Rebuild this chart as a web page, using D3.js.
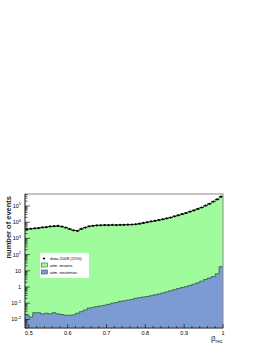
<!DOCTYPE html>
<html>
<head>
<meta charset="utf-8">
<script src="https://cdn.jsdelivr.net/npm/d3@7"></script>
<style>
  body { margin: 0; background: #fff; }
  svg { display: block; font-family: "Liberation Sans", Arial, sans-serif; }
</style>
</head>
<body>
<div id="chart"></div>
<script>
// Data: 51 bins of width 0.01 from 0.49 to 1.00
const binLow = d3.range(51).map(i => +(0.49 + i * 0.01).toFixed(2));

// atm. muons (events per bin)
const muons = [
  3700, 3900, 4100, 4400, 4700, 5000, 5400, 5700, 5800, 5400,
  4600, 3800, 3100, 3000, 3800, 4700, 5500, 6000, 6300, 6500,
  6600, 6600, 6700, 6700, 6800, 6900, 7000, 7200, 7400, 8100,
  8900, 10000, 11000, 12300, 13500, 15100, 17000, 19500, 22900, 26900,
  31600, 37000, 44700, 53700, 66000, 81000, 105000, 138000, 186000, 257000,
  372000
];

// atm. neutrinos
const neutrinos = [
  0.019, 0.014, 0.026, 0.026, 0.022, 0.024, 0.022, 0.026, 0.022, 0.020,
  0.018, 0.018, 0.019, 0.024, 0.030, 0.038, 0.050, 0.055, 0.062, 0.068,
  0.075, 0.085, 0.10, 0.11, 0.13, 0.14, 0.155, 0.17, 0.20, 0.22,
  0.24, 0.26, 0.29, 0.33, 0.37, 0.43, 0.50, 0.58, 0.68, 0.80,
  0.92, 1.05, 1.25, 1.5, 1.8, 2.3, 2.9, 3.6, 4.4, 6.5,
  18
];

// data 2008 (15%)
const data2008 = [
  3650, 3950, 4150, 4350, 4750, 4950, 5450, 5650, 5850, 5350,
  4650, 3750, 3150, 2950, 3850, 4650, 5550, 5950, 6350, 6450,
  6650, 6550, 6750, 6650, 6850, 6850, 7050, 7150, 7450, 8050,
  8950, 9950, 11100, 12200, 13600, 15000, 17100, 19400, 23000, 26700,
  31800, 36800, 45000, 53400, 66300, 80500, 105500, 137000, 187000, 255000,
  374000
];

const yTicks = [1e-2, 1e-1, 1, 10, 1e2, 1e3, 1e4, 1e5];
const yTickLabels = [["10", "-2"], ["10", "-1"], ["1", ""], ["10", ""], ["10", "2"], ["10", "3"], ["10", "4"], ["10", "5"]];
const xTicks = [0.5, 0.6, 0.7, 0.8, 0.9, 1.0];
const xTickLabels = ["0.5", "0.6", "0.7", "0.8", "0.9", "1"];
const legendItems = ["data 2008 (15%)", "atm. muons", "atm. neutrinos"];

const W = 268, H = 346;
const frame = { left: 25, right: 223, top: 194, bottom: 328 };

const svg = d3.select("#chart").append("svg")
  .attr("width", W)
  .attr("height", H);

const x = d3.scaleLinear().domain([0.49, 1.0]).range([frame.left, frame.right]);
const y = d3.scaleLog().domain([Math.pow(10, -2.53), Math.pow(10, 5.74)]).range([frame.bottom, frame.top]);

const green = "#9ffb9c";
const blue = "#7c9bd3";

// stacked histograms: total (muons + neutrinos) then neutrinos
const total = muons.map((m, i) => m + neutrinos[i]);

function stepArea(vals) {
  const pts = [];
  vals.forEach((v, i) => {
    pts.push([binLow[i], v]);
    pts.push([+(binLow[i] + 0.01).toFixed(2), v]);
  });
  return pts;
}

const area = d3.area()
  .x(d => x(d[0]))
  .y0(frame.bottom)
  .y1(d => y(d[1]));
const line = d3.line()
  .x(d => x(d[0]))
  .y(d => y(d[1]));

const plot = svg.append("g");

plot.append("path")
  .attr("d", area(stepArea(total)))
  .attr("fill", green);
plot.append("path")
  .attr("d", line(stepArea(total)))
  .attr("fill", "none")
  .attr("stroke", "#2d6b35")
  .attr("stroke-width", 0.8);

plot.append("path")
  .attr("d", area(stepArea(neutrinos)))
  .attr("fill", blue);
plot.append("path")
  .attr("d", line(stepArea(neutrinos)))
  .attr("fill", "none")
  .attr("stroke", "#2a5a3a")
  .attr("stroke-width", 0.8);

// data points
const pts = plot.append("g");
data2008.forEach((v, i) => {
  const cx = x(binLow[i] + 0.005);
  pts.append("line")
    .attr("x1", x(binLow[i])).attr("x2", x(binLow[i] + 0.01))
    .attr("y1", y(v)).attr("y2", y(v))
    .attr("stroke", "#000").attr("stroke-width", 0.8);
  pts.append("circle")
    .attr("cx", cx).attr("cy", y(v))
    .attr("r", 1.1)
    .attr("fill", "#000");
});

// frame
svg.append("rect")
  .attr("x", frame.left).attr("y", frame.top)
  .attr("width", frame.right - frame.left)
  .attr("height", frame.bottom - frame.top)
  .attr("fill", "none")
  .attr("stroke", "#8a8a8a")
  .attr("stroke-width", 1);

// y axis ticks (inside), log minor ticks
const axes = svg.append("g").attr("stroke", "#000").attr("stroke-width", 0.6);
axes.append("line")
  .attr("x1", frame.left).attr("x2", frame.left)
  .attr("y1", frame.top).attr("y2", frame.bottom);
for (let e = -3; e <= 5; e++) {
  for (let k = 1; k <= 9; k++) {
    const v = k * Math.pow(10, e);
    const [d0, d1] = y.domain();
    if (v < d0 || v > d1) continue;
    axes.append("line")
      .attr("x1", frame.left).attr("x2", frame.left + (k === 1 ? 5 : 2.5))
      .attr("y1", y(v)).attr("y2", y(v));
  }
}
// x axis ticks
axes.append("line")
  .attr("x1", frame.left).attr("x2", frame.right)
  .attr("y1", frame.bottom).attr("y2", frame.bottom);
d3.range(0.5, 1.001, 0.02).forEach(v => {
  const major = Math.abs(v * 10 - Math.round(v * 10)) < 1e-6;
  axes.append("line")
    .attr("x1", x(v)).attr("x2", x(v))
    .attr("y1", frame.bottom).attr("y2", frame.bottom - (major ? 4 : 2));
});

// y tick labels
const yl = svg.append("g").attr("font-size", 5.5).attr("fill", "#000");
yTicks.forEach((v, i) => {
  const t = yl.append("text")
    .attr("x", 21).attr("y", y(v) + 2)
    .attr("text-anchor", "end");
  t.append("tspan").text(yTickLabels[i][0]);
  if (yTickLabels[i][1]) {
    t.append("tspan").attr("dy", -2.5).attr("font-size", 4).text(yTickLabels[i][1]);
  }
});

// x tick labels
const xl = svg.append("g").attr("font-size", 5.5).attr("fill", "#000");
xTicks.forEach((v, i) => {
  xl.append("text")
    .attr("x", x(v)).attr("y", frame.bottom + 7)
    .attr("text-anchor", "middle")
    .text(xTickLabels[i]);
});

// axis titles
svg.append("text")
  .attr("transform", `translate(11,${frame.top + 2}) rotate(-90)`)
  .attr("text-anchor", "end")
  .attr("font-size", 7.5)
  .attr("font-weight", "bold")
  .attr("fill", "#222")
  .text("number of events");

const xt = svg.append("text")
  .attr("x", 211).attr("y", 341)
  .attr("font-size", 8)
  .attr("fill", "#222");
xt.append("tspan").text("β");
xt.append("tspan").attr("dy", 2).attr("font-size", 5).text("rec");

// legend
const lg = svg.append("g").attr("transform", "translate(40,253)");
lg.append("rect")
  .attr("width", 49).attr("height", 25)
  .attr("fill", "#fff");
lg.append("circle").attr("cx", 4).attr("cy", 5.5).attr("r", 1.1).attr("fill", "#000");
lg.append("rect").attr("x", 1.5).attr("y", 10).attr("width", 6).attr("height", 4)
  .attr("fill", green).attr("stroke", "#2d6b35").attr("stroke-width", 0.6);
lg.append("rect").attr("x", 1.5).attr("y", 17).attr("width", 6).attr("height", 4)
  .attr("fill", blue).attr("stroke", "#2a5a3a").attr("stroke-width", 0.6);
legendItems.forEach((s, i) => {
  lg.append("text")
    .attr("x", 10).attr("y", 7 + i * 7)
    .attr("font-size", 4.3)
    .attr("fill", "#000")
    .text(s);
});
</script>
</body>
</html>
